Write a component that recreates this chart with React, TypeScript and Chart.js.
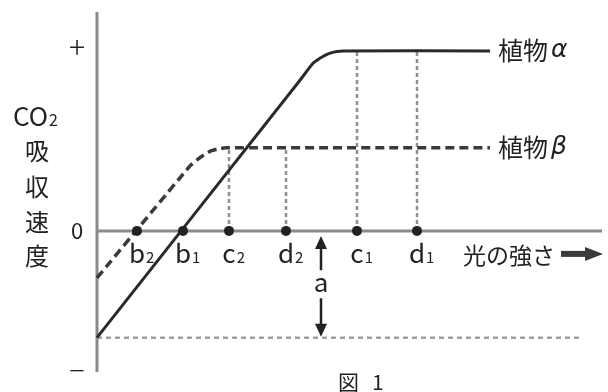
import React, { useEffect, useRef } from 'react';
import { Chart, registerables } from 'chart.js';

Chart.register(...registerables);

// ---- data (light intensity on x, CO2 uptake rate on y, arbitrary units) ----
const alphaX = [0, 4.06, 4.32, 4.44, 4.56, 4.68, 4.8, 4.92, 7.86];
const alphaY = [-5.9, 8.33, 9.27, 9.51, 9.7, 9.84, 9.92, 9.95, 9.95];
const betaX = [0, 1.86, 2.0, 2.14, 2.28, 2.42, 2.58, 7.86];
const betaY = [-2.6, 3.59, 3.92, 4.2, 4.42, 4.53, 4.59, 4.59];

const markX = [0.8, 1.72, 2.64, 3.78, 5.2, 6.4];
const markLetters = ['b', 'b', 'c', 'd', 'c', 'd'];
const markSubs = ['2', '1', '2', '2', '1', '1'];

const dropX = [2.64, 3.78, 5.2, 6.4];
const dropTop = [4.59, 4.59, 9.95, 9.95];

const respirationA = -5.9;
const baselineEnd = 9.72;
const arrowAX = 4.48;

const yTickValues = [10.17, 0, -7.57];
const yTickLabels = ['+', '0', '–'];

const X_MIN = 0;
const X_MAX = 10.1;
const Y_MIN = -7.8;
const Y_MAX = 12.1;

const FONT = '"Noto Sans CJK JP", "Noto Sans", sans-serif';
const INK = '#222222';

function drawSub(ctx: CanvasRenderingContext2D, base: string, sub: string, cx: number, by: number, bSize: number, sSize: number) {
  ctx.font = `${bSize}px ${FONT}`;
  const w = ctx.measureText(base).width;
  ctx.textAlign = 'center';
  ctx.textBaseline = 'alphabetic';
  ctx.fillText(base, cx, by);
  ctx.font = `${sSize}px ${FONT}`;
  ctx.textAlign = 'left';
  ctx.fillText(sub, cx + w / 2 + 1, by);
}

function arrowHead(ctx: CanvasRenderingContext2D, tx: number, ty: number, dir: 'up' | 'down' | 'right', len: number, half: number) {
  ctx.beginPath();
  if (dir === 'up') {
    ctx.moveTo(tx, ty);
    ctx.lineTo(tx - half, ty + len);
    ctx.lineTo(tx + half, ty + len);
  } else if (dir === 'down') {
    ctx.moveTo(tx, ty);
    ctx.lineTo(tx - half, ty - len);
    ctx.lineTo(tx + half, ty - len);
  } else {
    ctx.moveTo(tx, ty);
    ctx.lineTo(tx - len, ty - half);
    ctx.lineTo(tx - len, ty + half);
  }
  ctx.closePath();
  ctx.fill();
}

const diagramPlugin = {
  id: 'diagram',
  beforeDatasetsDraw(chart: any) {
    const { ctx, scales } = chart;
    const x = scales.x, y = scales.y;
    ctx.save();
    ctx.strokeStyle = '#8a8a8a';
    ctx.lineWidth = 3;
    ctx.beginPath();
    const x0 = x.getPixelForValue(0);
    ctx.moveTo(x0, y.getPixelForValue(Y_MAX));
    ctx.lineTo(x0, y.getPixelForValue(Y_MIN));
    const y0 = y.getPixelForValue(0);
    ctx.moveTo(x0, y0);
    ctx.lineTo(x.getPixelForValue(X_MAX), y0);
    ctx.stroke();
    ctx.restore();
  },
  afterDatasetsDraw(chart: any) {
    const { ctx, scales } = chart;
    const x = scales.x, y = scales.y;
    const x0 = x.getPixelForValue(0);
    const y0 = y.getPixelForValue(0);
    ctx.save();
    ctx.fillStyle = INK;
    ctx.strokeStyle = INK;

    // y tick labels
    ctx.textAlign = 'center';
    ctx.textBaseline = 'middle';
    yTickValues.forEach((v, i) => {
      ctx.font = i === 1 ? `22px ${FONT}` : `300 30px ${FONT}`;
      ctx.fillText(yTickLabels[i], x0 - 20, y.getPixelForValue(v));
    });

    // y axis title
    ctx.font = `26px ${FONT}`;
    ctx.textAlign = 'left';
    ctx.textBaseline = 'alphabetic';
    ctx.fillText('CO', 13, 126);
    const coW = ctx.measureText('CO').width;
    ctx.font = `16px ${FONT}`;
    ctx.fillText('2', 13 + coW + 1, 126);
    ctx.font = `24px ${FONT}`;
    ctx.textAlign = 'center';
    ctx.textBaseline = 'middle';
    const col = ['吸', '収', '速', '度'];
    const colY = [151, 187, 222, 256];
    col.forEach((c, i) => ctx.fillText(c, 37, colY[i]));

    // mark labels under axis
    markX.forEach((v, i) => {
      drawSub(ctx, markLetters[i], markSubs[i], x.getPixelForValue(v), y0 + 32, 26, 15);
    });

    // x axis title and arrow
    ctx.font = `23px ${FONT}`;
    ctx.textAlign = 'left';
    ctx.textBaseline = 'middle';
    ctx.fillText('光の強さ', 463, y0 + 24);
    ctx.fillStyle = '#3a3a3a';
    ctx.fillRect(561, y0 + 20, 26, 6);
    arrowHead(ctx, 603, y0 + 23, 'right', 18, 7);

    // arrow a
    const ax = x.getPixelForValue(arrowAX);
    const ay = y.getPixelForValue(respirationA);
    const mid = (y0 + ay) / 2;
    ctx.fillStyle = INK;
    ctx.lineWidth = 2.5;
    ctx.beginPath();
    ctx.moveTo(ax, y0 + 14);
    ctx.lineTo(ax, mid - 14);
    ctx.moveTo(ax, mid + 14);
    ctx.lineTo(ax, ay - 12);
    ctx.stroke();
    arrowHead(ctx, ax, y0 + 5, 'up', 13, 6);
    arrowHead(ctx, ax, ay - 1, 'down', 13, 6);
    ctx.font = `26px ${FONT}`;
    ctx.textAlign = 'center';
    ctx.textBaseline = 'middle';
    ctx.fillText('a', ax, mid - 2);

    // series labels
    const labelX = x.getPixelForValue(alphaX[alphaX.length - 1]) + 8;
    const drawPlant = (greek: string, v: number) => {
      const py = y.getPixelForValue(v);
      ctx.font = `25px ${FONT}`;
      ctx.textAlign = 'left';
      ctx.textBaseline = 'middle';
      ctx.fillText('植物', labelX, py);
      const w = ctx.measureText('植物').width;
      ctx.font = `italic 25px "DejaVu Sans", sans-serif`;
      ctx.fillText(greek, labelX + w + 3, py);
    };
    drawPlant('α', alphaY[alphaY.length - 1]);
    drawPlant('β', betaY[betaY.length - 1]);

    // caption
    ctx.font = `21px ${FONT}`;
    ctx.textAlign = 'left';
    ctx.textBaseline = 'middle';
    ctx.fillText('図', 338, 382);
    ctx.fillText('1', 372, 382);

    ctx.restore();
  },
};

export default function App() {
  const ref = useRef<HTMLCanvasElement | null>(null);

  useEffect(() => {
    if (!ref.current) return;
    const pts = (xs: number[], ys: number[]) => xs.map((v, i) => ({ x: v, y: ys[i] }));
    const dropSets = dropX.map((v, i) => ({
      data: [{ x: v, y: 0 }, { x: v, y: dropTop[i] }],
      borderColor: '#8f8f8f',
      borderWidth: 2.5,
      borderDash: [4, 3],
      pointRadius: 0,
      order: 3,
      clip: false as any,
    }));
    const chart = new Chart(ref.current, {
      type: 'line',
      data: {
        datasets: [
          {
            data: markX.map((v) => ({ x: v, y: 0 })),
            showLine: false,
            pointRadius: 5,
            pointBackgroundColor: INK,
            pointBorderColor: INK,
            pointBorderWidth: 0,
            order: 0,
            clip: false as any,
          },
          {
            data: pts(alphaX, alphaY),
            borderColor: '#2a2a2a',
            borderWidth: 3,
            pointRadius: 0,
            tension: 0.2,
            order: 1,
            clip: false as any,
          },
          {
            data: pts(betaX, betaY),
            borderColor: '#3a3a3a',
            borderWidth: 3.5,
            borderDash: [9, 5],
            pointRadius: 0,
            tension: 0.2,
            order: 2,
            clip: false as any,
          },
          ...dropSets,
          {
            data: [{ x: 0, y: respirationA }, { x: baselineEnd, y: respirationA }],
            borderColor: '#a0a0a0',
            borderWidth: 2.5,
            borderDash: [5, 4],
            pointRadius: 0,
            order: 4,
            clip: false as any,
          },
        ],
      },
      options: {
        animation: false,
        responsive: false,
        events: [],
        layout: { padding: { left: 97, right: 6, top: 12, bottom: 20 } },
        plugins: { legend: { display: false }, tooltip: { enabled: false } },
        scales: {
          x: { type: 'linear', min: X_MIN, max: X_MAX, display: false },
          y: { type: 'linear', min: Y_MIN, max: Y_MAX, display: false },
        },
      },
      plugins: [diagramPlugin],
    });
    return () => chart.destroy();
  }, []);

  return (
    <div style={{ position: 'absolute', left: 0, top: 0, width: 608, height: 392, background: '#fff' }}>
      <canvas ref={ref} width={608} height={392} />
    </div>
  );
}
